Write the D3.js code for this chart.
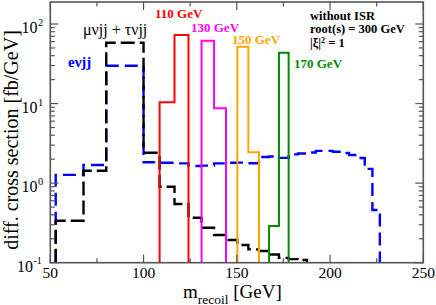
<!DOCTYPE html>
<html><head><meta charset="utf-8">
<script src="https://cdn.jsdelivr.net/npm/d3@7"></script>
<style>body{margin:0;background:#fff}svg{display:block}text{font-family:"Liberation Serif","Times New Roman",serif}</style>
</head><body>
<svg id="c" width="436" height="305"></svg>
<script>
// ---- data ----
const binEdges = [52.9, 67.8, 80, 100, 108.6, 116.6, 124.1, 131.1, 137.8, 144.2, 150.3, 156.2, 161.9, 167.3, 172.6, 177.8, 182.8, 187.6, 192.4, 197.0, 201.5, 205.9, 210.2, 214.5, 218.6, 222.7, 226.7];
const evjj = [1.27, 1.69, 29.9, 1.83, 1.80, 1.77, 1.64, 1.66, 1.77, 1.80, 1.81, 1.78, 2.13, 2.16, 2.08, 2.30, 2.36, 2.43, 2.54, 2.54, 2.48, 2.39, 2.26, 2.07, 1.51, 0.46];
const muTauvjj = [0.337, 1.43, 58.2, 2.41, 0.90, 0.547, 0.368, 0.275, 0.223, 0.193, 0.167, 0.147, 0.140, 0.127, 0.115, 0.111, 0.108];
const signal110Edges = [108.6, 116.6, 124.1];
const signal110 = [10.4, 72.7];
const signal130Edges = [131.1, 137.8, 144.2];
const signal130 = [61.7, 8.72];
const signal150Edges = [150.3, 156.2, 161.9];
const signal150 = [51.8, 2.45];
const signal170Edges = [167.3, 172.6, 177.8];
const signal170 = [0.289, 43.6];
const xTicks = [50, 100, 150, 200, 250];
const xMinorTicks = [75, 125, 175, 225];
const yTickExponents = [-1, 0, 1, 2];

// ---- layout ----
const svg = d3.select("#c");
const L = 50.3, R = 423.3, T = 2, B = 262.7;
const x = d3.scaleLinear().domain([50, 250]).range([L, R]);
const yMax = Math.pow(10, 2 + (24 - T) / ((B - 24) / 3));
const y = d3.scaleLog().domain([0.1, yMax]).range([B, T]);
const ymin = 0.1;

svg.append("clipPath").attr("id", "pc").append("rect")
  .attr("x", L).attr("y", T).attr("width", R - L).attr("height", B - T);

function stepPoints(edges, vals) {
  const pts = [[edges[0], ymin]];
  vals.forEach((v, i) => { pts.push([edges[i], Math.max(v, ymin)]); pts.push([edges[i + 1], Math.max(v, ymin)]); });
  pts.push([edges[vals.length], ymin]);
  return pts;
}
const line = d3.line().x(d => x(d[0])).y(d => y(d[1]));
const plot = svg.append("g").attr("clip-path", "url(#pc)");

plot.append("path").attr("d", line(stepPoints(binEdges, evjj)))
  .attr("fill", "none").attr("stroke", "#0000ff").attr("stroke-width", 2.4).attr("stroke-dasharray", "13,6");
plot.append("path").attr("d", line(stepPoints(binEdges.slice(0, muTauvjj.length + 1), muTauvjj)))
  .attr("fill", "none").attr("stroke", "#000").attr("stroke-width", 2.4).attr("stroke-dasharray", "14,5");
[[signal110Edges, signal110, "#ff0000"], [signal130Edges, signal130, "#ff00ff"],
 [signal150Edges, signal150, "#ffa500"], [signal170Edges, signal170, "#008b00"]].forEach(([e, v, c]) => {
  plot.append("path").attr("d", line(stepPoints(e, v)))
    .attr("fill", "none").attr("stroke", c).attr("stroke-width", 2);
});

// ---- frame & ticks ----
const frameColor = "#555";
const ax = svg.append("g").attr("stroke", frameColor).attr("fill", "none");
ax.append("rect").attr("x", L).attr("y", T).attr("width", R - L).attr("height", B - T).attr("stroke-width", 1.6);
const majorLen = 8, minorLen = 4.5;
xTicks.forEach(t => {
  ax.append("line").attr("x1", x(t)).attr("x2", x(t)).attr("y1", B).attr("y2", B - majorLen);
  ax.append("line").attr("x1", x(t)).attr("x2", x(t)).attr("y1", T).attr("y2", T + majorLen);
});
xMinorTicks.forEach(t => {
  ax.append("line").attr("x1", x(t)).attr("x2", x(t)).attr("y1", B).attr("y2", B - minorLen);
  ax.append("line").attr("x1", x(t)).attr("x2", x(t)).attr("y1", T).attr("y2", T + minorLen);
});
const yMinor = [];
[-1, 0, 1, 2].forEach(e => { for (let k = 2; k <= 9; k++) { const v = k * Math.pow(10, e); if (v < yMax) yMinor.push(v); } });
yTickExponents.forEach(e => {
  const yy = y(Math.pow(10, e));
  ax.append("line").attr("x1", L).attr("x2", L + majorLen).attr("y1", yy).attr("y2", yy);
  ax.append("line").attr("x1", R).attr("x2", R - majorLen).attr("y1", yy).attr("y2", yy);
});
yMinor.forEach(v => {
  const yy = y(v);
  ax.append("line").attr("x1", L).attr("x2", L + minorLen).attr("y1", yy).attr("y2", yy);
  ax.append("line").attr("x1", R).attr("x2", R - minorLen).attr("y1", yy).attr("y2", yy);
});
ax.selectAll("line").attr("stroke-width", 1.2);

// tick labels
xTicks.forEach(t => {
  svg.append("text").attr("x", x(t)).attr("y", 277.5).attr("text-anchor", "middle")
    .attr("font-size", 15.5).text(t);
});
yTickExponents.forEach(e => {
  const yy = y(Math.pow(10, e));
  const right = e < 0 ? 33 : 37.5;
  svg.append("text").attr("x", right).attr("y", yy + 9).attr("text-anchor", "end").attr("font-size", 16).text("10");
  svg.append("text").attr("x", right + 0.5).attr("y", yy + (e < 0 ? 1 : 2)).attr("font-size", e < 0 ? 10 : 10.5)
    .text(e < 0 ? "-" + (-e) : e);
});

// axis titles
const xt = svg.append("text").attr("x", 183).attr("y", 297.5).attr("font-size", 19);
xt.append("tspan").text("m");
xt.append("tspan").attr("dy", 6).attr("font-size", 13.5).text("recoil");
xt.append("tspan").attr("dy", -6).text(" [GeV]");
svg.append("text").attr("transform", "translate(18,140) rotate(-90)").attr("text-anchor", "middle")
  .attr("font-size", 20).text("diff. cross section [fb/GeV]");

// annotations
function note(tx, ty, s, c, size, bold) {
  svg.append("text").attr("x", tx).attr("y", ty).attr("fill", c).attr("font-size", size)
    .attr("font-weight", bold ? "bold" : "normal").text(s);
}
note(68, 67, "eνjj", "#0000ff", 15, true);
note(83, 35, "μνjj + τνjj", "#000", 16, false);
note(155, 18, "110 GeV", "#ff0000", 13, true);
note(191, 32, "130 GeV", "#ff00ff", 13, true);
note(232, 44, "150 GeV", "#ffa500", 13, true);
note(294, 68, "170 GeV", "#008b00", 13, true);
note(310, 19.5, "without ISR", "#000", 12.5, true);
note(310, 32.5, "root(s) = 300 GeV", "#000", 12.5, true);
const xi = svg.append("text").attr("x", 310).attr("y", 47).attr("font-size", 12.5).attr("font-weight", "bold");
xi.append("tspan").text("|ξ|");
xi.append("tspan").attr("dy", -4).attr("font-size", 8).text("2");
xi.append("tspan").attr("dy", 4).text(" = 1");
</script>
</body></html>
